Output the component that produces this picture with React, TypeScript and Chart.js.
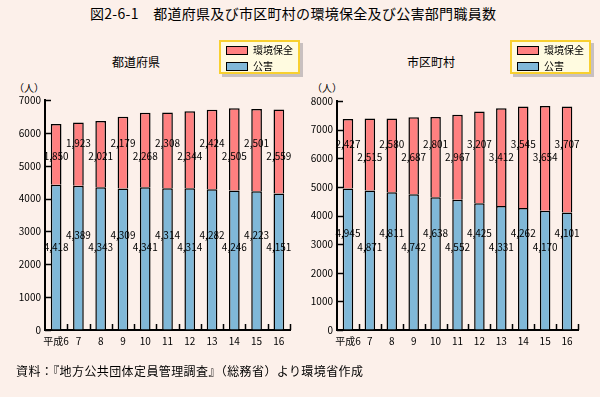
import React, { useEffect, useRef } from "react";
import { Chart, registerables } from "chart.js";
Chart.register(...registerables);

const years = ["平成6", "7", "8", "9", "10", "11", "12", "13", "14", "15", "16"];
const prefEnv = [1850, 1923, 2021, 2179, 2268, 2308, 2344, 2424, 2505, 2501, 2559];
const prefPol = [4418, 4389, 4343, 4309, 4341, 4314, 4314, 4282, 4246, 4223, 4151];
const muniEnv = [2427, 2515, 2580, 2687, 2801, 2967, 3207, 3412, 3545, 3654, 3707];
const muniPol = [4945, 4871, 4811, 4742, 4638, 4552, 4425, 4331, 4262, 4170, 4101];
const prefMax = 7000;
const muniMax = 8000;
const tickStep = 1000;

const RED = "#ff8080";
const BLUE = "#80b8d8";
const FONT = "'Noto Sans CJK JP', 'Noto Sans', sans-serif";
const BG = "#fcf0ea";

const decor = {
  id: "decor",
  afterDatasetsDraw(chart: any, _args: any, opts: any) {
    const ctx = chart.ctx;
    const { left, right, bottom } = chart.chartArea;
    const ys = chart.scales.y;
    ctx.save();
    ctx.strokeStyle = "#000";
    ctx.lineWidth = 1.5;
    ys.ticks.forEach((t: any) => {
      const py = Math.round(ys.getPixelForValue(t.value)) + 0.5;
      ctx.beginPath();
      ctx.moveTo(left, py);
      ctx.lineTo(left + 6, py);
      ctx.stroke();
    });
    const n = chart.data.labels.length;
    const w = (right - left) / n;
    for (let i = 1; i <= n; i++) {
      const px = Math.round(left + i * w) + 0.5;
      ctx.beginPath();
      ctx.moveTo(px, bottom);
      ctx.lineTo(px, bottom - 6);
      ctx.stroke();
    }
    ctx.font = `10px ${FONT}`;
    ctx.fillStyle = "#000";
    ctx.textAlign = "center";
    ctx.textBaseline = "middle";
    chart.data.datasets.forEach((ds: any, di: number) => {
      const meta = chart.getDatasetMeta(di);
      const levels = opts.levels[di];
      ds.data.forEach((v: number, j: number) => {
        const px = meta.data[j].x;
        const py = ys.getPixelForValue(levels[j % 2]);
        ctx.fillText(v.toLocaleString("en-US"), px, py);
      });
    });
    ctx.restore();
  },
};

type PanelProps = {
  env: number[];
  pol: number[];
  max: number;
  yWidth: number;
  padRight: number;
  padTop: number;
  levels: number[][];
  left: number;
};

function Panel({ env, pol, max, yWidth, padRight, padTop, levels, left }: PanelProps) {
  const ref = useRef<HTMLCanvasElement | null>(null);
  useEffect(() => {
    if (!ref.current) return;
    const chart = new Chart(ref.current, {
      type: "bar",
      data: {
        labels: years,
        datasets: [
          {
            label: "公害",
            data: pol,
            backgroundColor: BLUE,
            borderColor: "#000",
            borderWidth: 1.5,
            barPercentage: 0.48,
            categoryPercentage: 1,
          },
          {
            label: "環境保全",
            data: env,
            backgroundColor: RED,
            borderColor: "#000",
            borderWidth: 1.5,
            barPercentage: 0.48,
            categoryPercentage: 1,
          },
        ],
      },
      options: {
        responsive: false,
        animation: false,
        devicePixelRatio: 1,
        layout: { padding: { left: 0, right: padRight, top: padTop, bottom: 47 } },
        plugins: {
          legend: { display: false },
          tooltip: { enabled: false },
          title: { display: false },
          decor: { levels },
        } as any,
        scales: {
          x: {
            stacked: true,
            grid: { display: true, drawOnChartArea: false, drawTicks: false },
            border: { display: true, color: "#000", width: 2 },
            ticks: {
              color: "#000",
              font: { family: FONT, size: 10 },
              padding: 5,
              maxRotation: 0,
              autoSkip: false,
            },
            afterFit: (s: any) => {
              s.height = 20;
            },
          },
          y: {
            stacked: true,
            min: 0,
            max,
            grid: { display: true, drawOnChartArea: false, drawTicks: false },
            border: { display: true, color: "#000", width: 2 },
            ticks: {
              stepSize: tickStep,
              color: "#000",
              font: { family: FONT, size: 10 },
              padding: 4,
              callback: (v: any) => String(v),
            },
            afterFit: (s: any) => {
              s.width = yWidth;
            },
          },
        },
      },
      plugins: [decor],
    });
    return () => chart.destroy();
  }, []);
  return (
    <canvas
      ref={ref}
      width={300}
      height={397}
      style={{ position: "absolute", left, top: 0, width: 300, height: 397 }}
    />
  );
}

function Legend({ left }: { left: number }) {
  const item = (color: string, text: string) => (
    <div style={{ display: "flex", alignItems: "center", height: 16 }}>
      <div style={{ width: 20, height: 7, background: color, border: "1px solid #000", marginRight: 5 }} />
      <span style={{ fontSize: 10, lineHeight: "16px" }}>{text}</span>
    </div>
  );
  return (
    <div
      style={{
        position: "absolute",
        left,
        top: 40,
        width: 72,
        height: 30,
        border: "2px solid #f8d030",
        background: "#fffbe0",
        boxShadow: "3px 3px 0 #c8c0c0",
        paddingLeft: 5,
        boxSizing: "content-box",
      }}
    >
      {item(RED, "環境保全")}
      {item(BLUE, "公害")}
    </div>
  );
}

export default function App() {
  useEffect(() => {
    document.body.style.margin = "0";
  }, []);
  const txt = (s: string, x: number, y: number, size: number, extra: any = {}) => (
    <div
      style={{
        position: "absolute",
        left: x,
        top: y,
        fontSize: size,
        lineHeight: 1,
        whiteSpace: "nowrap",
        ...extra,
      }}
    >
      {s}
    </div>
  );
  return (
    <div
      style={{
        position: "absolute",
        left: 0,
        top: 0,
        width: 600,
        height: 397,
        background: BG,
        fontFamily: FONT,
        color: "#000",
        overflow: "hidden",
      }}
    >
      {txt("図2-6-1　都道府県及び市区町村の環境保全及び公害部門職員数", 90, 6, 14, { letterSpacing: "0.3px" })}
      {txt("都道府県", 112, 56, 12)}
      {txt("市区町村", 407, 56, 12)}
      {txt("（人）", 14, 83, 10)}
      {txt("（人）", 312, 83, 10)}
      <Panel
        env={prefEnv}
        pol={prefPol}
        max={prefMax}
        yWidth={45}
        padRight={10}
        padTop={100}
        levels={[[2526, 2891], [5296, 5691]]}
        left={0}
      />
      <Panel
        env={muniEnv}
        pol={muniPol}
        max={muniMax}
        yWidth={37}
        padRight={22}
        padTop={101}
        levels={[[3394, 2906], [6489, 6047]]}
        left={300}
      />
      <Legend left={219} />
      <Legend left={510} />
      {txt("資料：『地方公共団体定員管理調査』（総務省）より環境省作成", 16, 365, 12, { letterSpacing: "0.4px" })}
    </div>
  );
}
